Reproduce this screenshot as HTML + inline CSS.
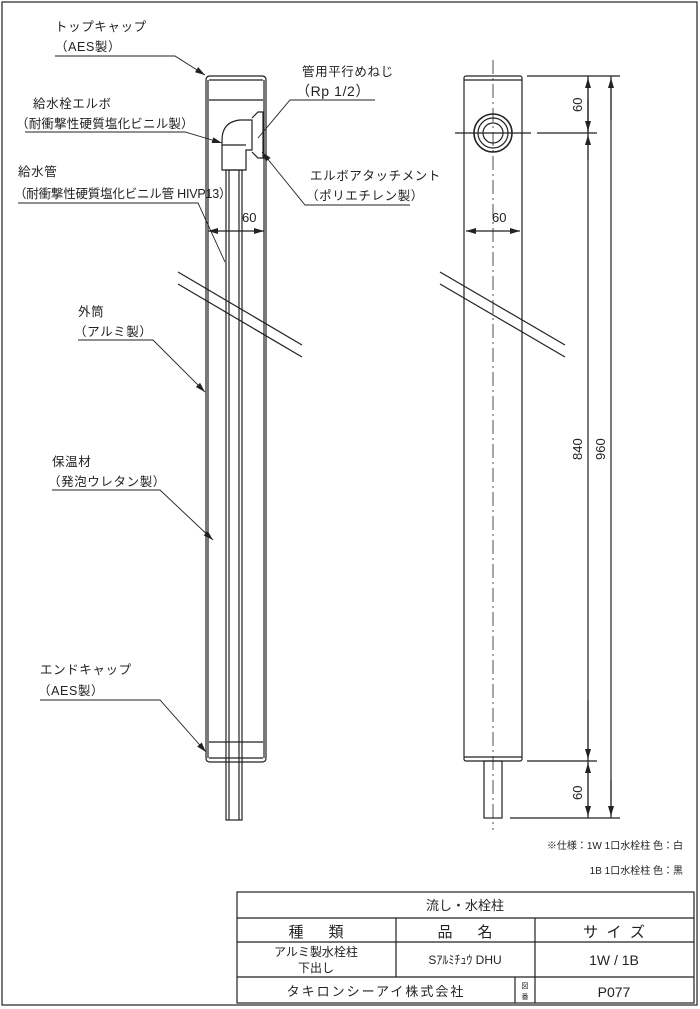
<!DOCTYPE html>
<html><head><meta charset="utf-8"><style>
html,body{margin:0;padding:0;background:#fff;}
svg{display:block;}
text{font-family:"Liberation Sans","Noto Sans CJK JP",sans-serif;fill:#222;}
</style></head><body>
<svg width="700" height="1009" viewBox="0 0 700 1009" xmlns="http://www.w3.org/2000/svg">
<defs>
<marker id="a" viewBox="0 0 10 6" refX="10" refY="3" markerWidth="10" markerHeight="6" orient="auto" markerUnits="userSpaceOnUse"><path d="M0,0L10,3L0,6z" fill="#222"/></marker>
</defs>
<g fill="none" stroke="#222" stroke-width="1.2">
<rect x="2" y="2" width="695" height="1003"/>
<path d="M206,80 Q206,76 210,76 L262,76 Q266,76 266,80 L266,758 Q266,762 262,762 L210,762 Q206,762 206,758 Z"/>
<line x1="208" y1="80" x2="208" y2="758"/><line x1="264" y1="80" x2="264" y2="758"/>
<line x1="209" y1="80" x2="263" y2="80"/><line x1="209" y1="100" x2="263" y2="100"/>
<line x1="209" y1="758" x2="263" y2="758"/><line x1="209" y1="742" x2="263" y2="742"/>
<rect x="226" y="170" width="16" height="650"/>
<line x1="229" y1="170" x2="229" y2="820"/><line x1="239" y1="170" x2="239" y2="820"/>
<path d="M222,170 L222,140 Q222,122 240,120 L252,120 L252,150 L246,150 L246,170 Z"/>
<line x1="222" y1="145" x2="246" y2="145"/>
<path d="M252,118 L258,112 L263,112 L263,158 L258,158 L252,152"/>
<line x1="178" y1="272" x2="302" y2="345"/><line x1="178" y1="284" x2="302" y2="357"/>
<line x1="440" y1="272" x2="565" y2="345"/><line x1="440" y1="284" x2="565" y2="357"/>
<rect x="464" y="76" width="58" height="685" rx="2"/>
<line x1="464" y1="80" x2="522" y2="80"/><line x1="464" y1="757" x2="522" y2="757"/>
<rect x="484" y="761" width="18" height="57"/>
<circle cx="493" cy="133" r="19" stroke-width="1.6"/><circle cx="493" cy="133" r="15"/><circle cx="493" cy="133" r="10"/>
<line x1="455" y1="133" x2="531" y2="133"/>
<line x1="493" y1="60" x2="493" y2="830" stroke-dasharray="14,4,2,4" stroke-width="0.8"/>
<line x1="527" y1="76" x2="620" y2="76"/><line x1="537" y1="133" x2="597" y2="133"/>
<line x1="527" y1="761" x2="597" y2="761"/><line x1="510" y1="818" x2="620" y2="818"/>
<line x1="588" y1="76" x2="588" y2="818"/><line x1="611" y1="76" x2="611" y2="818"/>
<line x1="588" y1="133" x2="588" y2="78" marker-end="url(#a)"/><line x1="588" y1="100" x2="588" y2="131" marker-end="url(#a)"/>
<line x1="588" y1="160" x2="588" y2="135" marker-end="url(#a)"/><line x1="588" y1="700" x2="588" y2="759" marker-end="url(#a)"/>
<line x1="588" y1="790" x2="588" y2="763" marker-end="url(#a)"/><line x1="588" y1="790" x2="588" y2="816" marker-end="url(#a)"/>
<line x1="611" y1="120" x2="611" y2="78" marker-end="url(#a)"/><line x1="611" y1="780" x2="611" y2="816" marker-end="url(#a)"/>
<line x1="240" y1="231" x2="208" y2="231" marker-end="url(#a)"/><line x1="240" y1="231" x2="264" y2="231" marker-end="url(#a)"/>
<line x1="493" y1="231" x2="466" y2="231" marker-end="url(#a)"/><line x1="493" y1="231" x2="520" y2="231" marker-end="url(#a)"/>
<g stroke-width="0.9">
<polyline points="55,56 175,56 205,75" marker-end="url(#a)"/>
<polyline points="25,132 185,132 222,143" marker-end="url(#a)"/>
<polyline points="18,203 198,203 225,262"/>
<polyline points="78,340 153,340 205,392" marker-end="url(#a)"/>
<polyline points="52,490 160,490 213,540" marker-end="url(#a)"/>
<polyline points="40,700 160,700 206,752" marker-end="url(#a)"/>
<polyline points="375,100 290,100 258,138"/>
<polyline points="410,205 305,205 262,152" marker-end="url(#a)"/>
</g>
<rect x="237" y="892" width="457" height="111"/>
<line x1="237" y1="918" x2="694" y2="918"/><line x1="237" y1="942" x2="694" y2="942"/><line x1="237" y1="977" x2="694" y2="977"/>
<line x1="396" y1="918" x2="396" y2="977"/><line x1="535" y1="918" x2="535" y2="1003"/><line x1="515" y1="977" x2="515" y2="1003"/>
</g>
<g font-size="12.5" letter-spacing="0.6">
<text x="55" y="31">トップキャップ</text><text x="55" y="51">（AES製）</text>
<text x="33" y="108">給水栓エルボ</text><text x="16" y="128" letter-spacing="0.2">（耐衝撃性硬質塩化ビニル製）</text>
<text x="18" y="176">給水管</text><text x="14" y="198" letter-spacing="-0.2">（耐衝撃性硬質塩化ビニル管 HIVP13）</text>
<text x="78" y="316">外筒</text><text x="74" y="336">（アルミ製）</text>
<text x="52" y="466">保温材</text><text x="48" y="486">（発泡ウレタン製）</text>
<text x="40" y="674">エンドキャップ</text><text x="38" y="695">（AES製）</text>
<text x="302" y="76">管用平行めねじ</text><text x="296" y="96" font-size="14">（Rp 1/2）</text>
<text x="310" y="180">エルボアタッチメント</text><text x="306" y="200">（ポリエチレン製）</text>
</g>
<g font-size="13">
<text x="242" y="222">60</text><text x="492" y="222">60</text>
<text transform="translate(582,112) rotate(-90)">60</text>
<text transform="translate(582,800) rotate(-90)">60</text>
<text transform="translate(582,460) rotate(-90)">840</text>
<text transform="translate(605,460) rotate(-90)">960</text>
</g>
<g font-size="10">
<text x="683" y="849" text-anchor="end">※仕様：1W 1口水栓柱 色：白</text>
<text x="683" y="874" text-anchor="end">1B 1口水栓柱 色：黒</text>
</g>
<g>
<text x="465" y="910" font-size="13" text-anchor="middle">流し・水栓柱</text>
<text x="316" y="937" font-size="15" text-anchor="middle" xml:space="preserve">種      類</text>
<text x="465" y="937" font-size="15" text-anchor="middle" xml:space="preserve">品      名</text>
<text x="614" y="937" font-size="15" text-anchor="middle" xml:space="preserve">サ  イ  ズ</text>
<text x="316" y="956" font-size="12" text-anchor="middle">アルミ製水栓柱</text>
<text x="316" y="972" font-size="12" text-anchor="middle">下出し</text>
<text x="465" y="964" font-size="12" text-anchor="middle">Sｱﾙﾐﾁｭｳ DHU</text>
<text x="614" y="965" font-size="14" text-anchor="middle">1W / 1B</text>
<text x="376" y="996" font-size="13" text-anchor="middle" letter-spacing="2">タキロンシーアイ株式会社</text>
<text x="525" y="988" font-size="7" text-anchor="middle">図</text><text x="525" y="999" font-size="7" text-anchor="middle">番</text>
<text x="614" y="997" font-size="14" text-anchor="middle">P077</text>
</g>
</svg>
</body></html>
